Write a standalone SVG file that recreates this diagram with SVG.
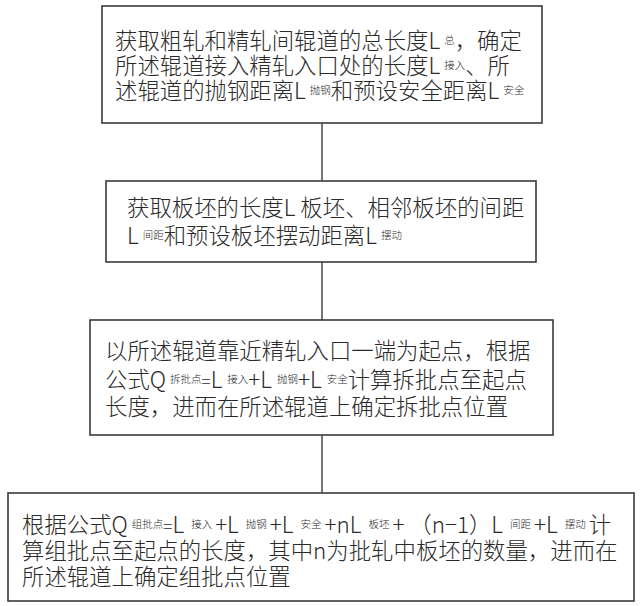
<svg xmlns="http://www.w3.org/2000/svg" width="640" height="606" viewBox="0 0 640 606">
<style>
.box{fill:#fff;stroke:#3a3a3a;stroke-width:1.6}
.t{font-family:"Noto Sans CJK SC","Noto Sans",sans-serif;font-size:22.4px;font-weight:300;fill:#2a2a2a}
.s{font-size:10.5px}
.conn line{stroke:#3a3a3a;stroke-width:1.4}
</style>
<rect width="640" height="606" fill="#fff"/>
<g class="conn">
<line x1="322" y1="123" x2="322" y2="181"/>
<line x1="322" y1="262" x2="322" y2="320"/>
<line x1="322" y1="435" x2="322" y2="493"/>
</g>
<g id="n1">
<rect class="box" x="102" y="6" width="440" height="117"/>
<text class="t" x="115" y="49">获取粗轧和精轧间辊道的总长度L<tspan class="s" dx="4" dy="-5">总</tspan><tspan dy="5">，确定</tspan></text>
<text class="t" x="115" y="74">所述辊道接入精轧入口处的长度L<tspan class="s" dx="4" dy="-5">接入</tspan><tspan dy="5">、所</tspan></text>
<text class="t" x="115" y="99">述辊道的抛钢距离L<tspan class="s" dx="4" dy="-5">抛钢</tspan><tspan dy="5">和预设安全距离L</tspan><tspan class="s" dx="4" dy="-5">安全</tspan></text>
</g>
<g id="n2">
<rect class="box" x="106" y="181" width="430" height="81"/>
<text class="t" x="127" y="216">获取板坯的长度L 板坯、相邻板坯的间距</text>
<text class="t" x="127" y="244">L<tspan class="s" dx="4" dy="-5">间距</tspan><tspan dy="5">和预设板坯摆动距离L</tspan><tspan class="s" dx="4" dy="-5">摆动</tspan></text>
</g>
<g id="n3">
<rect class="box" x="90" y="320" width="463" height="115"/>
<text class="t" x="105" y="359">以所述辊道靠近精轧入口一端为起点，根据</text>
<text class="t" x="105" y="388">公式Q<tspan class="s" dx="4" dy="-5">拆批点</tspan><tspan dy="5" font-size="17">=</tspan>L<tspan class="s" dx="5" dy="-5">接入</tspan><tspan dy="5">+L</tspan><tspan class="s" dx="5" dy="-5">抛钢</tspan><tspan dy="5">+L</tspan><tspan class="s" dx="5" dy="-5">安全</tspan><tspan dy="5">计算拆批点至起点</tspan></text>
<text class="t" x="105" y="415">长度，进而在所述辊道上确定拆批点位置</text>
</g>
<g id="n4">
<rect class="box" x="8" y="493" width="626" height="108"/>
<text class="t" x="22" y="533">根据公式Q<tspan class="s" dx="4" dy="-5">组批点</tspan><tspan dy="5" font-size="17">=</tspan>L<tspan class="s" dx="7" dy="-5">接入</tspan><tspan dy="5" dx="3">+L</tspan><tspan class="s" dx="7" dy="-5">抛钢</tspan><tspan dy="5" dx="3">+L</tspan><tspan class="s" dx="7" dy="-5">安全</tspan><tspan dy="5" dx="3">+nL</tspan><tspan class="s" dx="7" dy="-5">板坯</tspan><tspan dy="5" dx="3">+ （n−1）L</tspan><tspan class="s" dx="7" dy="-5">间距</tspan><tspan dy="5" dx="3">+L</tspan><tspan class="s" dx="7" dy="-5">摆动</tspan><tspan dy="5" dx="3">计</tspan></text>
<text class="t" x="22" y="559">算组批点至起点的长度，其中n为批轧中板坯的数量，进而在</text>
<text class="t" x="22" y="585">所述辊道上确定组批点位置</text>
</g>
</svg>
